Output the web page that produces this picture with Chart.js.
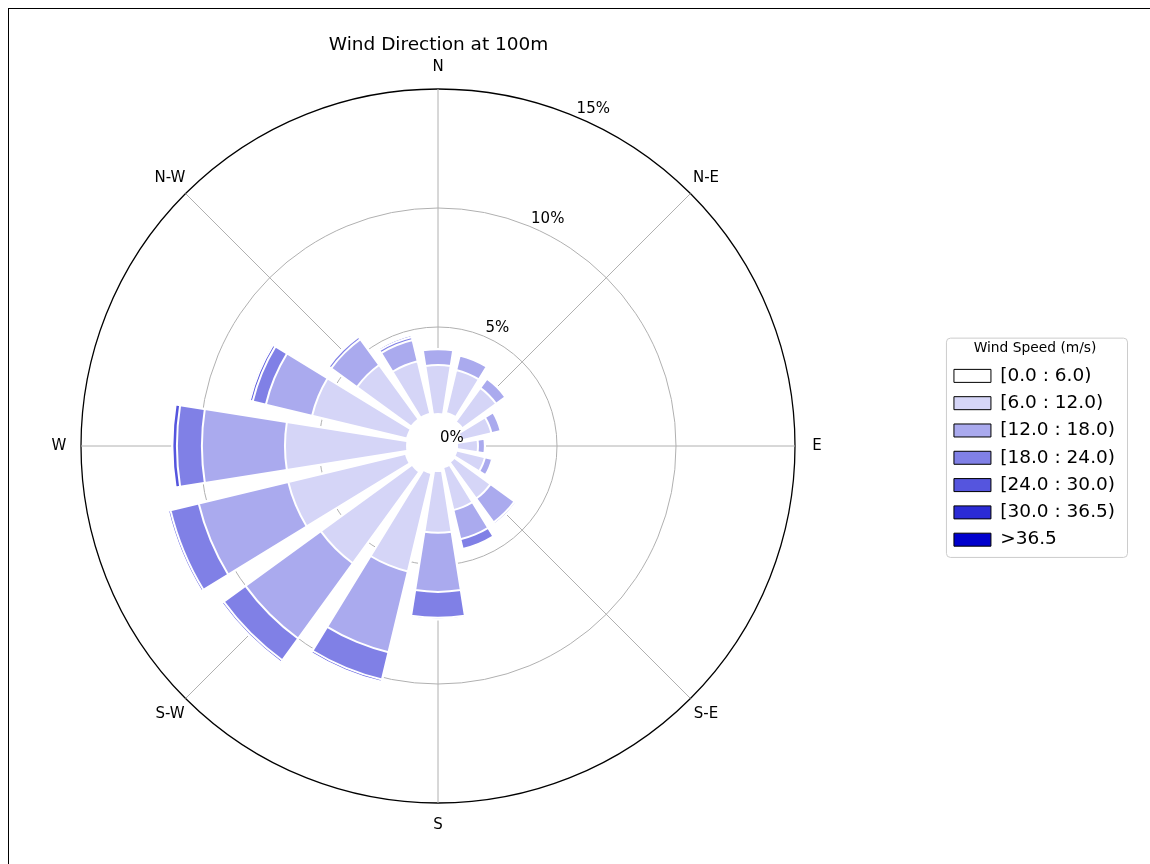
<!DOCTYPE html>
<html>
<head>
<meta charset="utf-8">
<title>Wind Direction at 100m</title>
<script src="https://cdn.jsdelivr.net/npm/chart.js@4.4.1/dist/chart.umd.min.js"></script>
<style>
  html, body { margin: 0; padding: 0; background: #fff; overflow: hidden; }
  #wrap { position: relative; width: 1150px; height: 864px; }
  #frame { position: absolute; left: 8px; top: 8px; width: 1200px; height: 900px; border: 1px solid #000; pointer-events: none; }
</style>
</head>
<body>
<div id="wrap">
  <canvas id="windChart" width="1150" height="864"></canvas>
  <div id="frame"></div>
</div>
<script>
// 16 sectors, clockwise from north
const directions = ['N', 'NNE', 'NE', 'ENE', 'E', 'ESE', 'SE', 'SSE', 'S', 'SSW', 'SW', 'WSW', 'W', 'WNW', 'NW', 'NNW'];

// frequency (%) of each speed bin, one value per sector
const speed0to6   = [1.34, 1.43, 1.26, 1.01, 0.80, 0.80, 0.84, 0.92, 1.05, 1.18, 1.34, 1.39, 1.30, 1.34, 1.39, 1.39];
const speed6to12  = [2.06, 1.85, 1.76, 1.30, 0.88, 1.23, 1.89, 1.85, 2.60, 4.24, 4.75, 5.08, 5.13, 4.10, 2.82, 2.27];
const speed12to18 = [0.67, 0.63, 0.48, 0.40, 0.29, 0.31, 1.24, 1.26, 2.48, 3.49, 3.91, 3.87, 3.49, 2.00, 1.34, 0.92];
const speed18to24 = [0, 0, 0, 0, 0, 0, 0.08, 0.42, 1.09, 1.18, 1.13, 1.22, 1.05, 0.57, 0.13, 0.13];
const speed24to30 = [0, 0, 0, 0, 0, 0, 0, 0, 0.06, 0.10, 0.10, 0.10, 0.19, 0.12, 0.04, 0.08];
const speed30to36 = [0, 0, 0, 0, 0, 0, 0, 0, 0, 0.05, 0, 0, 0, 0.06, 0, 0];
const speedOver36 = [0, 0, 0, 0, 0, 0, 0, 0, 0, 0, 0, 0, 0, 0, 0, 0];

const speedBins = [speed0to6, speed6to12, speed12to18, speed18to24, speed24to30, speed30to36, speedOver36];
const binLabels = ['[0.0 : 6.0)', '[6.0 : 12.0)', '[12.0 : 18.0)', '[18.0 : 24.0)', '[24.0 : 30.0)', '[30.0 : 36.5)', '>36.5'];
const binColors = ['#ffffff', '#d5d5f7', '#aaaaee', '#8080e6', '#5555de', '#2b2bd5', '#0000cd'];

// axis text
const compassLabels = ['N', 'N-E', 'E', 'S-E', 'S', 'S-W', 'W', 'N-W'];
const radialTicks = [0, 5, 10, 15];
const radialTickLabels = ['0%', '5%', '10%', '15%'];

const sectorAngle = 360 / directions.length;
const barAngle = sectorAngle * 0.8;      // bars fill 80% of a sector
const gapAngle = sectorAngle - barAngle;

// polar area can't stack, so each bin is drawn as the running total and
// the smaller totals sit on top of the bigger ones. every bar is followed by an empty gap slot
function runningTotal(upTo) {
    const out = [];
    directions.forEach((d, i) => {
        let total = 0;
        for (let b = 0; b <= upTo; b++) total += speedBins[b][i];
        out.push(total, 0);
    });
    return out;
}

const slotLabels = [];
directions.forEach(d => slotLabels.push(d, ''));

// scale slots are half a bar wide, starting half a bar left of north,
// so the compass points land on slot 1, 6, 11 ...
const scaleSlots = new Array(360 / (barAngle / 2)).fill('');
compassLabels.forEach((lab, k) => { scaleSlots[1 + 5 * k] = lab; });

const datasets = speedBins.map((bin, b) => ({
    label: binLabels[b],
    data: runningTotal(b),
    backgroundColor: binColors[b],
    borderColor: '#ffffff',
    borderWidth: 2,
    angle: ctx => (ctx.dataIndex % 2 === 0 ? barAngle : gapAngle)
}));

// empty box between the rose and the legend
const legendGap = {
    id: 'legendGap',
    beforeInit(chart) {
        Chart.layouts.addBox(chart, {
            position: 'right',
            weight: 0,
            fullSize: false,
            options: {},
            width: 0,
            height: 0,
            isHorizontal: () => false,
            update(maxWidth, maxHeight) {
                this.width = 68;
                this.height = maxHeight;
            },
            draw() {}
        });
    }
};

// direction names, percent labels and the legend frame
const roseText = {
    id: 'roseText',
    afterDraw(chart) {
        const r = chart.scales.r;
        const ctx = chart.ctx;
        ctx.save();
        ctx.fillStyle = '#000';
        ctx.font = '15px "DejaVu Sans"';
        ctx.textAlign = 'center';
        ctx.textBaseline = 'middle';
        const labelDist = r.getDistanceFromCenterForValue(15) + 22;
        compassLabels.forEach((lab, k) => {
            const p = r.getPointPosition(1 + 5 * k, labelDist);
            ctx.fillText(lab, p.x, p.y);
        });

        ctx.textAlign = 'left';
        ctx.textBaseline = 'bottom';
        const a = 22.5 * Math.PI / 180;
        radialTicks.forEach((v, i) => {
            const d = r.getDistanceFromCenterForValue(v);
            ctx.fillText(radialTickLabels[i], r.xCenter + d * Math.sin(a) + 2, r.yCenter - d * Math.cos(a));
        });

        const boxes = chart.legend.legendHitBoxes;
        if (boxes && boxes.length) {
            const first = boxes[0];
            const last = boxes[boxes.length - 1];
            const right = Math.max(...boxes.map(h => h.left + h.width));
            const x0 = first.left - 8;
            const y0 = first.top - 29;
            ctx.strokeStyle = '#cccccc';
            ctx.lineWidth = 1;
            ctx.beginPath();
            ctx.roundRect(x0 + 0.5, y0 + 0.5, right + 12 - x0, last.top + last.height + 8 - y0, 4);
            ctx.stroke();
        }
        ctx.restore();
    }
};

Chart.defaults.font.family = '"DejaVu Sans"';
Chart.defaults.color = '#000';

new Chart(document.getElementById('windChart'), {
    type: 'polarArea',
    data: {
        labels: slotLabels,
        datasets: datasets
    },
    options: {
        responsive: false,
        animation: false,
        events: [],
        layout: {
            padding: { left: 0, top: 0, right: 25, bottom: 61 }
        },
        scales: {
            r: {
                min: 0,
                max: 15,
                startAngle: -barAngle / 2,
                labels: scaleSlots,
                z: 1,
                ticks: { display: false, stepSize: 5 },
                pointLabels: { display: false },
                grid: {
                    circular: true,
                    color: ctx => (ctx.tick.value === 15 ? '#000000' : '#b0b0b0'),
                    lineWidth: ctx => (ctx.tick.value === 15 ? 1.3 : 1)
                },
                angleLines: {
                    display: true,
                    color: '#b0b0b0',
                    lineWidth: ctx => (ctx.label ? 1 : 0)
                }
            }
        },
        plugins: {
            title: {
                display: true,
                text: 'Wind Direction at 100m',
                fullSize: false,
                color: '#000',
                font: { size: 18.5, weight: 'normal' },
                padding: { top: 33.9, bottom: 32.9 }
            },
            legend: {
                position: 'right',
                fullSize: false,
                onClick: null,
                title: {
                    display: true,
                    text: 'Wind Speed (m/s)',
                    color: '#000',
                    font: { size: 13.8 },
                    padding: { top: 7, bottom: 0 }
                },
                labels: {
                    boxWidth: 37,
                    boxHeight: 13,
                    padding: 8.8,
                    color: '#000',
                    font: { size: 18.5 },
                    generateLabels: chart => chart.data.datasets.map((ds, i) => ({
                        text: ds.label,
                        fillStyle: binColors[i],
                        strokeStyle: '#000',
                        lineWidth: 1,
                        hidden: false,
                        datasetIndex: i
                    }))
                }
            },
            tooltip: { enabled: false }
        }
    },
    plugins: [legendGap, roseText]
});
</script>
</body>
</html>
